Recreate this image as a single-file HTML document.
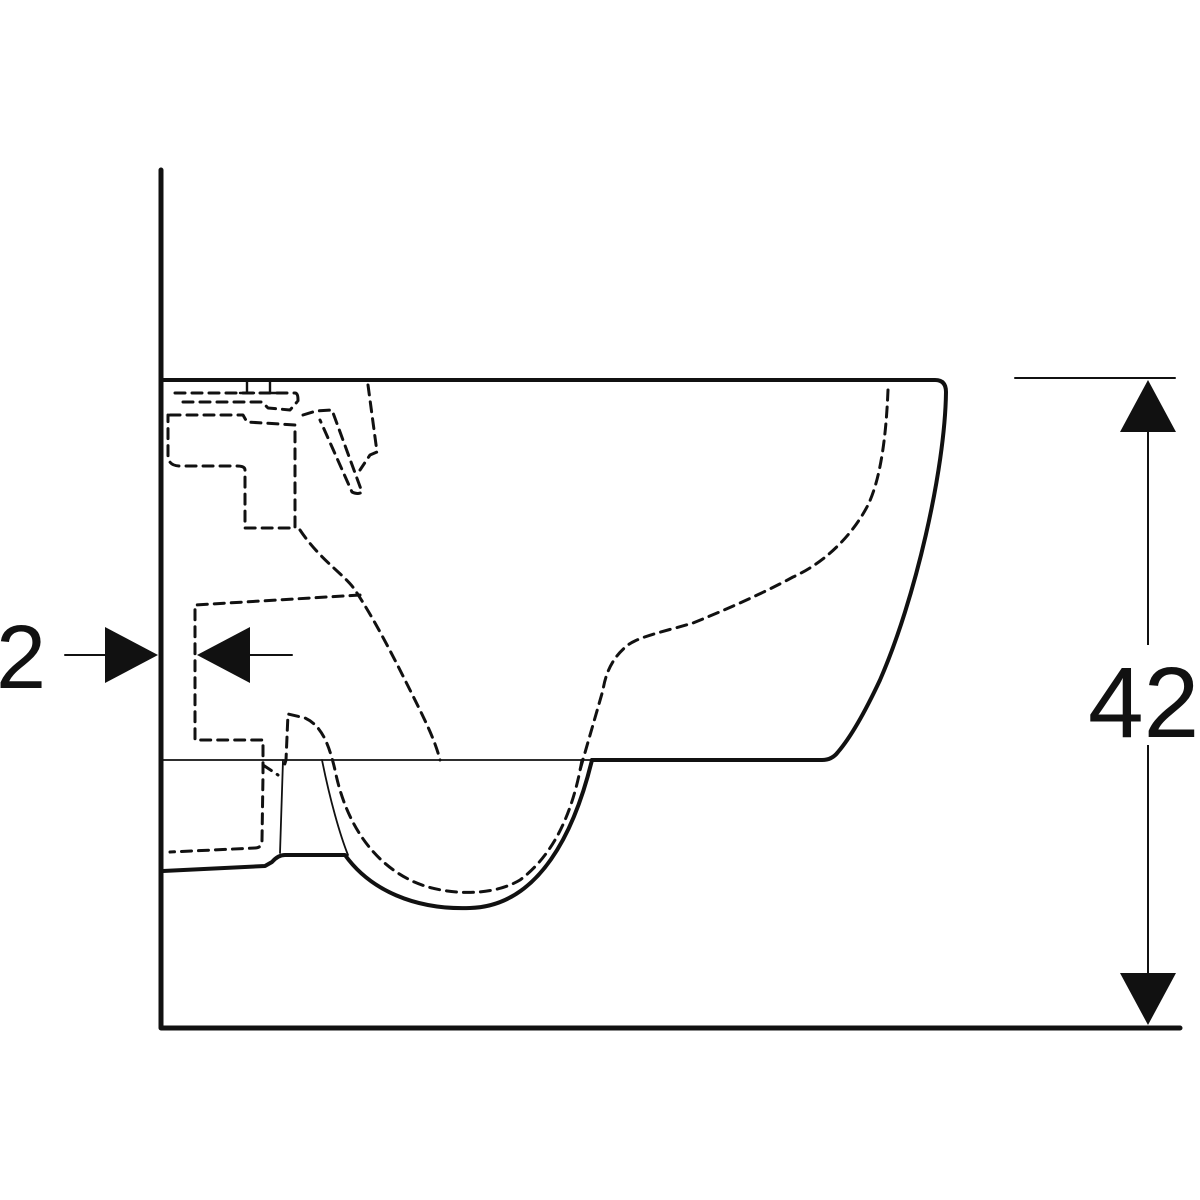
<!DOCTYPE html>
<html><head><style>
html,body{margin:0;padding:0;background:#fff;width:1200px;height:1200px;overflow:hidden}
svg{display:block}
text{font-family:"Liberation Sans",sans-serif;fill:#111}
</style></head><body>
<svg width="1200" height="1200" viewBox="0 0 1200 1200" xmlns="http://www.w3.org/2000/svg">
<g fill="none" stroke="#111" stroke-linecap="round" stroke-linejoin="round">
<path d="M161 170 V1028 H1180" stroke-width="5"/>
<path d="M163 380 H935 Q946 380 946 392 C945 470 915 600 880 680 C865 712 850 738 838 752 Q832 760 822 760 H592" stroke-width="4"/>
<path d="M592 760 C575 830 540 906 470 908 C415 910 370 890 345 855 H285 Q278 855 272 862 L265 866 L163 871" stroke-width="4"/>
<path d="M163 760 H592" stroke-width="1.8"/>
<path d="M322 760 C330 800 340 835 348 855" stroke-width="1.8"/>
<path d="M283 760 L280 853" stroke-width="1.8"/>
<g stroke-width="3" stroke-dasharray="10 7">
<path d="M888 390 C886 440 880 480 868 505 C850 540 820 565 793 577 C760 595 720 612 693 623 C670 630 640 636 628 645 C615 655 606 670 603 690 L580 770"/>
<path d="M582 760 C575 800 560 850 520 880 C490 898 440 895 410 880 C370 860 345 820 335 770 C328 740 320 725 305 718 L288 714 L286 760 L283 770"/>
<path d="M300 530 C320 560 345 575 355 590 C375 620 395 660 410 690 C425 720 435 740 440 760"/>
<path d="M360 595 L195 605 V740 H263 V775 L262 840 Q262 848 255 848 L170 852"/>
<path d="M263 765 L278 775"/>
<path d="M175 393 H295 Q298 393 298 400 V404"/>
<path d="M183 402 H262 L268 408 L290 410 L297 402"/>
<path d="M170 415 H243 L247 422 L295 425 V528 H245 V470 Q245 466 237 466 H180 Q168 466 168 455 V415"/>
<path d="M303 415 L316 411 L332 410 L362 492 Q358 495 352 492 L320 420"/>
<path d="M368 385 L377 452 L370 455 L360 470"/>
</g>
<path d="M247 382 V393 M240 393 H254 M270 382 V393 M263 393 H277" stroke-width="2.4"/>
<path d="M65 655 H105 M250 655 H292" stroke-width="2"/>
<path d="M1148 430 V975 M1015 378 H1175" stroke-width="2"/>
</g>
<g fill="#111">
<polygon points="105,627 105,683 158,655"/>
<polygon points="250,627 250,683 197,655"/>
<polygon points="1148,380 1120,432 1176,432"/>
<polygon points="1148,1025 1120,973 1176,973"/>
</g>
<rect x="1085" y="645" width="115" height="100" fill="#fff"/>
<text x="-4" y="688" font-size="90">2</text>
<text x="1088" y="737" font-size="100">42</text>
</svg>
</body></html>
